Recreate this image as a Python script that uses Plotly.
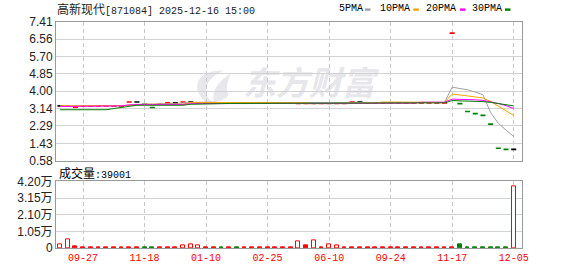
import plotly.graph_objects as go

# ---------------- data ----------------
idx = list(range(60))

price = [3.28, 3.27, 3.22, 3.27, 3.27, 3.27, 3.27, 3.27, 3.27, 3.47,
         3.47, 3.36, 3.20, 3.36, 3.43, 3.43, 3.47, 3.47, 3.43, 3.43,
         3.43, 3.42, 3.43, 3.42, 3.43, 3.43, 3.43, 3.43, 3.43, 3.43,
         3.43, 3.40, 3.40, 3.40, 3.40, 3.40, 3.40, 3.40, 3.47, 3.47,
         3.43, 3.43, 3.43, 3.43, 3.43, 3.43, 3.43, 3.43, 3.43, 3.43,
         3.43, 6.86, 3.39, 3.00, 2.90, 2.81, 2.38, 1.19, 1.14, 1.14]

candle_dir = ['k', 'r', 'r', 'r', 'r', 'r', 'r', 'r', 'r', 'r',
              'k', 'g', 'g', 'r', 'r', 'k', 'r', 'k', 'r', 'r',
              'r', 'g', 'r', 'g', 'r', 'r', 'r', 'r', 'r', 'r',
              'r', 'r', 'r', 'r', 'r', 'r', 'r', 'r', 'r', 'k',
              'r', 'r', 'r', 'r', 'r', 'r', 'r', 'r', 'r', 'r',
              'r', 'r', 'g', 'g', 'g', 'g', 'g', 'g', 'g', 'k']

# volume in 万
volume = [0.20, 0.57, 0.12, 0.04, 0.04, 0.04, 0.04, 0.04, 0.04, 0.04,
          0.04, 0.04, 0.04, 0.04, 0.04, 0.04, 0.18, 0.24, 0.16, 0.04,
          0.04, 0.04, 0.04, 0.04, 0.04, 0.04, 0.04, 0.04, 0.04, 0.04,
          0.04, 0.41, 0.14, 0.49, 0.04, 0.22, 0.16, 0.04, 0.04, 0.04,
          0.04, 0.04, 0.04, 0.04, 0.04, 0.04, 0.04, 0.04, 0.04, 0.04,
          0.04, 0.04, 0.26, 0.04, 0.04, 0.04, 0.04, 0.04, 0.04, 3.9001]

# h = hollow red, f = filled red, g = filled green
vol_style = ['h', 'h', 'f', 'f', 'f', 'f', 'f', 'f', 'f', 'f',
             'f', 'g', 'g', 'f', 'f', 'f', 'h', 'h', 'h', 'f',
             'f', 'g', 'f', 'g', 'f', 'f', 'f', 'f', 'f', 'f',
             'f', 'h', 'f', 'h', 'f', 'h', 'h', 'f', 'f', 'f',
             'f', 'f', 'f', 'f', 'f', 'f', 'f', 'f', 'f', 'f',
             'f', 'f', 'g', 'g', 'g', 'g', 'g', 'g', 'g', 'h']

ma5 = [3.28, 3.28, 3.28, 3.28, 3.28, 3.28, 3.28, 3.28, 3.28, 3.32,
       3.36, 3.37, 3.36, 3.37, 3.38, 3.38, 3.42, 3.45, 3.46, 3.46,
       3.46, 3.45, 3.44, 3.44, 3.44, 3.44, 3.44, 3.44, 3.44, 3.44,
       3.44, 3.42, 3.42, 3.42, 3.42, 3.42, 3.42, 3.42, 3.43, 3.44,
       3.42, 3.42, 3.42, 3.45, 3.45, 3.45, 3.45, 3.45, 3.45, 3.45,
       3.45, 4.20, 4.15, 4.07, 3.96, 3.83, 2.95, 2.42, 2.09, 1.77]

ma10 = [3.28, 3.28, 3.28, 3.28, 3.28, 3.28, 3.28, 3.28, 3.28, 3.30,
        3.32, 3.36, 3.36, 3.36, 3.36, 3.36, 3.36, 3.45, 3.45, 3.45,
        3.45, 3.45, 3.45, 3.45, 3.45, 3.45, 3.43, 3.43, 3.43, 3.43,
        3.43, 3.43, 3.43, 3.39, 3.39, 3.39, 3.39, 3.39, 3.42, 3.42,
        3.42, 3.42, 3.47, 3.47, 3.47, 3.47, 3.47, 3.47, 3.45, 3.45,
        3.45, 3.86, 3.83, 3.77, 3.72, 3.67, 3.50, 3.28, 3.05, 2.81]

ma20 = [3.25, 3.25, 3.25, 3.25, 3.25, 3.25, 3.25, 3.28, 3.28, 3.33,
        3.35, 3.35, 3.35, 3.35, 3.35, 3.35, 3.35, 3.39, 3.39, 3.39,
        3.39, 3.42, 3.42, 3.42, 3.42, 3.42, 3.42, 3.42, 3.42, 3.42,
        3.42, 3.42, 3.42, 3.41, 3.41, 3.41, 3.41, 3.41, 3.41, 3.41,
        3.41, 3.41, 3.41, 3.41, 3.41, 3.41, 3.41, 3.46, 3.46, 3.46,
        3.46, 3.61, 3.61, 3.60, 3.58, 3.55, 3.49, 3.40, 3.29, 3.15]

ma30 = [3.09, 3.09, 3.09, 3.09, 3.09, 3.09, 3.09, 3.15, 3.20, 3.25,
        3.31, 3.31, 3.31, 3.31, 3.31, 3.31, 3.31, 3.36, 3.36, 3.36,
        3.36, 3.39, 3.40, 3.40, 3.40, 3.40, 3.40, 3.40, 3.40, 3.40,
        3.40, 3.40, 3.40, 3.40, 3.40, 3.40, 3.40, 3.40, 3.41, 3.41,
        3.42, 3.42, 3.42, 3.42, 3.42, 3.42, 3.42, 3.43, 3.43, 3.43,
        3.43, 3.54, 3.53, 3.51, 3.50, 3.49, 3.45, 3.40, 3.34, 3.28]

tick_idx = [3, 11, 19, 27, 35, 43, 51, 59]
tick_labels = ['09-27', '11-18', '01-10', '02-25', '06-10', '09-24', '11-17', '12-05']

price_ticks = [0.58, 1.43, 2.29, 3.14, 4.00, 4.85, 5.70, 6.56, 7.41]
price_tick_text = ['0.58', '1.43', '2.29', '3.14', '4.00', '4.85', '5.70', '6.56', '7.41']
vol_ticks = [0, 1.05, 2.10, 3.15, 4.20]
vol_tick_text = ['0', '1.05万', '2.10万', '3.15万', '4.20万']

ma_names = ['5PMA', '10PMA', '20PMA', '30PMA']
ma_colors = ['#a0a0a0', '#f5a300', '#ff00ff', '#007f00']

# ---------------- styling ----------------
RED = '#ff0000'
GREEN = '#008000'
BLACK = '#000000'
dir_color = {'r': RED, 'g': GREEN, 'k': BLACK}
MONO = 'Liberation Mono, Noto Sans CJK SC'
SANS = 'Liberation Sans, Noto Sans CJK SC'

W, H = 578, 276
ML, MR, MT, MB = 56, 56, 22, 21
PW, PH = W - ML - MR, H - MT - MB
MAIN_TOP, MAIN_BOT = 22, 165
VOL_TOP, VOL_BOT = 186.3, 255


def px(x):
    return (x - ML) / PW


def py(y):
    return (H - MB - y) / PH


def dx(x):
    return (x - ML) / PW


def dy(y):
    return (MAIN_BOT - y) / (MAIN_BOT - MAIN_TOP)


fig = go.Figure()

# candles (flat dashes)
fig.add_trace(go.Scatter(
    x=idx, y=price, mode='markers', xaxis='x', yaxis='y',
    marker=dict(symbol='line-ew', size=3.6,
                color=[dir_color[d] for d in candle_dir],
                line=dict(width=1.6, color=[dir_color[d] for d in candle_dir])),
    hoverinfo='skip', showlegend=False))

# moving averages
for name, vals, col in zip(ma_names, [ma5, ma10, ma20, ma30], ma_colors):
    fig.add_trace(go.Scatter(x=idx, y=vals, mode='lines', name=name,
                             line=dict(color=col, width=1), xaxis='x', yaxis='y',
                             hoverinfo='skip', showlegend=False))

# volume bars
fills = [{'h': '#ffffff', 'f': RED, 'g': GREEN}[s] for s in vol_style]
edges = [{'h': RED, 'f': RED, 'g': GREEN}[s] for s in vol_style]
fig.add_trace(go.Bar(x=idx, y=volume, xaxis='x2', yaxis='y2', width=0.5,
                     marker=dict(color=fills, line=dict(color=edges, width=1)),
                     hoverinfo='skip', showlegend=False))

axis_common = dict(showline=True, mirror=True, linecolor='#999999', linewidth=1,
                   zeroline=False, ticks='')

fig.update_layout(
    width=W, height=H,
    margin=dict(l=ML, r=MR, t=MT, b=MB, pad=0),
    paper_bgcolor='white', plot_bgcolor='white',
    showlegend=False, bargap=0,
    xaxis=dict(domain=[0, 1], range=[-0.52, 60.08], anchor='y',
               tickvals=tick_idx, showticklabels=False,
               showgrid=True, gridcolor='#c8c8c8', griddash='4px,3px', gridwidth=1,
               **axis_common),
    yaxis=dict(domain=[py(MAIN_BOT), 1], range=[0.58, 7.41], anchor='x',
               tickvals=price_ticks, ticktext=price_tick_text,
               tickfont=dict(family=SANS, size=12, color='#222222'),
               showgrid=True, gridcolor='#d2d2d2', gridwidth=1,
               **axis_common),
    xaxis2=dict(domain=[0, 1], range=[-0.52, 60.08], anchor='y2', matches='x',
                tickvals=tick_idx, ticktext=tick_labels,
                tickfont=dict(family=MONO, size=10, color=RED),
                showgrid=True, gridcolor='#c8c8c8', griddash='4px,3px', gridwidth=1,
                **axis_common),
    yaxis2=dict(domain=[0, py(VOL_TOP)], range=[0, 4.2], anchor='x2',
                tickvals=vol_ticks, ticktext=vol_tick_text,
                tickfont=dict(family=SANS, size=12, color='#222222'),
                showgrid=True, gridcolor='#d2d2d2', gridwidth=1,
                **axis_common),
)

shapes = []
# watermark text (below traces)
shapes.append(dict(type='rect', xref='x domain', yref='y domain',
                   x0=dx(240), x1=dx(378), y0=dy(103), y1=dy(73),
                   line=dict(width=0), fillcolor='rgba(0,0,0,0)', layer='below',
                   label=dict(text='东方财富', textposition='middle center',
                              font=dict(family='Noto Sans CJK SC', size=33,
                                        color='#e6e6eb', weight='bold', style='italic'))))


def path(points):
    s = 'M {:.4f},{:.4f}'.format(dx(points[0][0]), dy(points[0][1]))
    rest = points[1:]
    for i in range(0, len(rest), 2):
        (cx, cy), (ex, ey) = rest[i], rest[i + 1]
        s += ' Q {:.4f},{:.4f} {:.4f},{:.4f}'.format(dx(cx), dy(cy), dx(ex), dy(ey))
    return s + ' Z'


logo_a = [(206, 105), (192, 92), (200, 80), (206, 72), (224, 72), (208, 79), (206, 91), (205, 99), (213, 105)]
logo_b = [(214, 104), (210, 88), (231, 75), (224, 90), (229, 97), (224, 104), (214, 104)]
for lp in (logo_a, logo_b):
    shapes.append(dict(type='path', xref='x domain', yref='y domain', path=path(lp),
                       fillcolor='#e8e8ec', line=dict(width=0), layer='below'))

# legend dashes
legend_dash_x = [365, 413.3, 460, 505]
for x0, col in zip(legend_dash_x, ma_colors):
    shapes.append(dict(type='rect', xref='paper', yref='paper',
                       x0=px(x0), x1=px(x0 + 5.5), y0=py(10.5), y1=py(8),
                       line=dict(width=0), fillcolor=col))
fig.update_layout(shapes=shapes)

annotations = [
    dict(xref='paper', yref='paper', x=px(55), y=py(8), xanchor='left', yanchor='middle',
         text="<span style='font-family:Noto Sans CJK SC;font-size:12px'>高新现代</span>[871084] 2025-12-16 15:00",
         showarrow=False, font=dict(family=MONO, size=10, color='#222222')),
    dict(xref='paper', yref='paper', x=px(57), y=py(177), xanchor='left', yanchor='middle',
         text="<span style='font-family:Noto Sans CJK SC;font-size:12px'>成交量</span>:39001",
         showarrow=False, font=dict(family=MONO, size=10, color='#000000')),
]
legend_label_x = [350.5, 395, 440.5, 486.7]
for name, cx in zip(ma_names, legend_label_x):
    annotations.append(dict(xref='paper', yref='paper', x=px(cx), y=py(8.5),
                            xanchor='center', yanchor='middle', text=name, showarrow=False,
                            font=dict(family=MONO, size=10, color='#000000')))
fig.update_layout(annotations=annotations)

fig.write_html('out.html')
